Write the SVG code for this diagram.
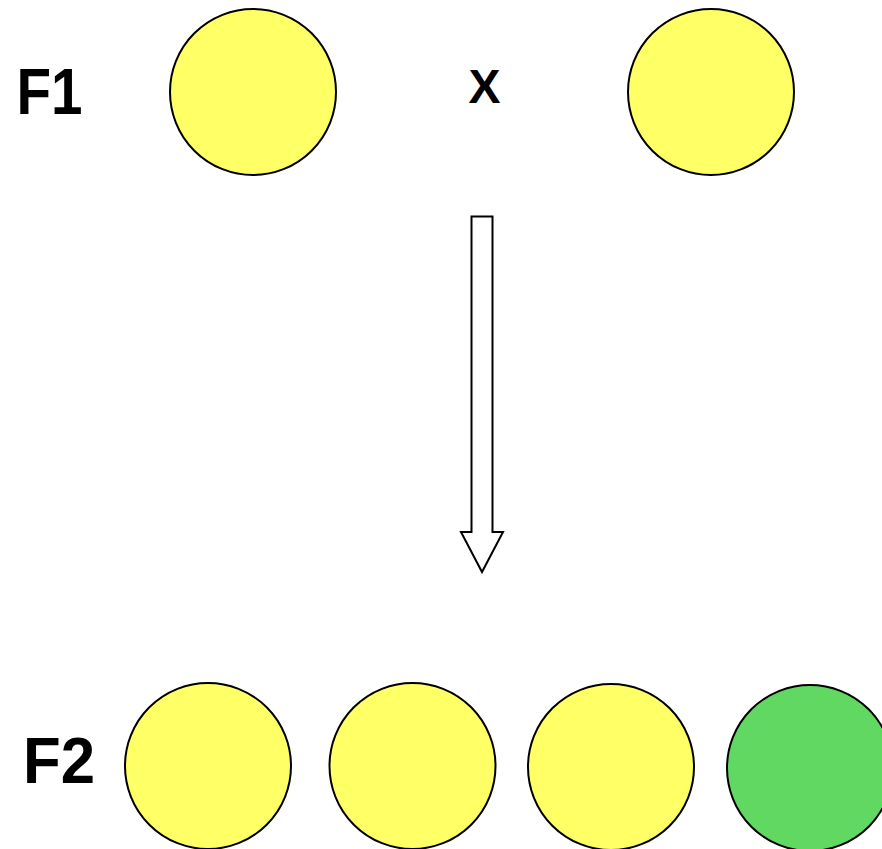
<svg xmlns="http://www.w3.org/2000/svg" width="882" height="849" viewBox="0 0 882 849">
<style>
.y{fill:#FFFF66;stroke:#000;stroke-width:2}
.g{fill:#60D862;stroke:#000;stroke-width:2}
.t{font-family:"Liberation Sans",Arial,sans-serif;font-weight:bold;fill:#000}
</style>
<rect width="882" height="849" fill="#fff"/>
<g id="label-f1"><text class="t" x="16.5" y="114" font-size="65" textLength="66" lengthAdjust="spacingAndGlyphs">F1</text></g>
<g id="label-x"><text class="t" x="484.5" y="103" font-size="48" text-anchor="middle">X</text></g>
<g id="label-f2"><text class="t" x="23" y="783" font-size="65" textLength="72" lengthAdjust="spacingAndGlyphs">F2</text></g>
<g id="p1"><circle class="y" cx="253" cy="92" r="83"/></g>
<g id="p2"><circle class="y" cx="711" cy="92" r="83"/></g>
<g id="o1"><circle class="y" cx="208" cy="766" r="83"/></g>
<g id="o2"><circle class="y" cx="412.5" cy="766" r="83"/></g>
<g id="o3"><circle class="y" cx="611" cy="767" r="83"/></g>
<g id="o4"><circle class="g" cx="810" cy="768" r="83"/></g>
<g id="connectors">
<polygon points="471.5,216.5 492.5,216.5 492.5,532 503,532 482,572 461,532 471.5,532" fill="#fff" stroke="#000" stroke-width="2"/>
</g>
</svg>
